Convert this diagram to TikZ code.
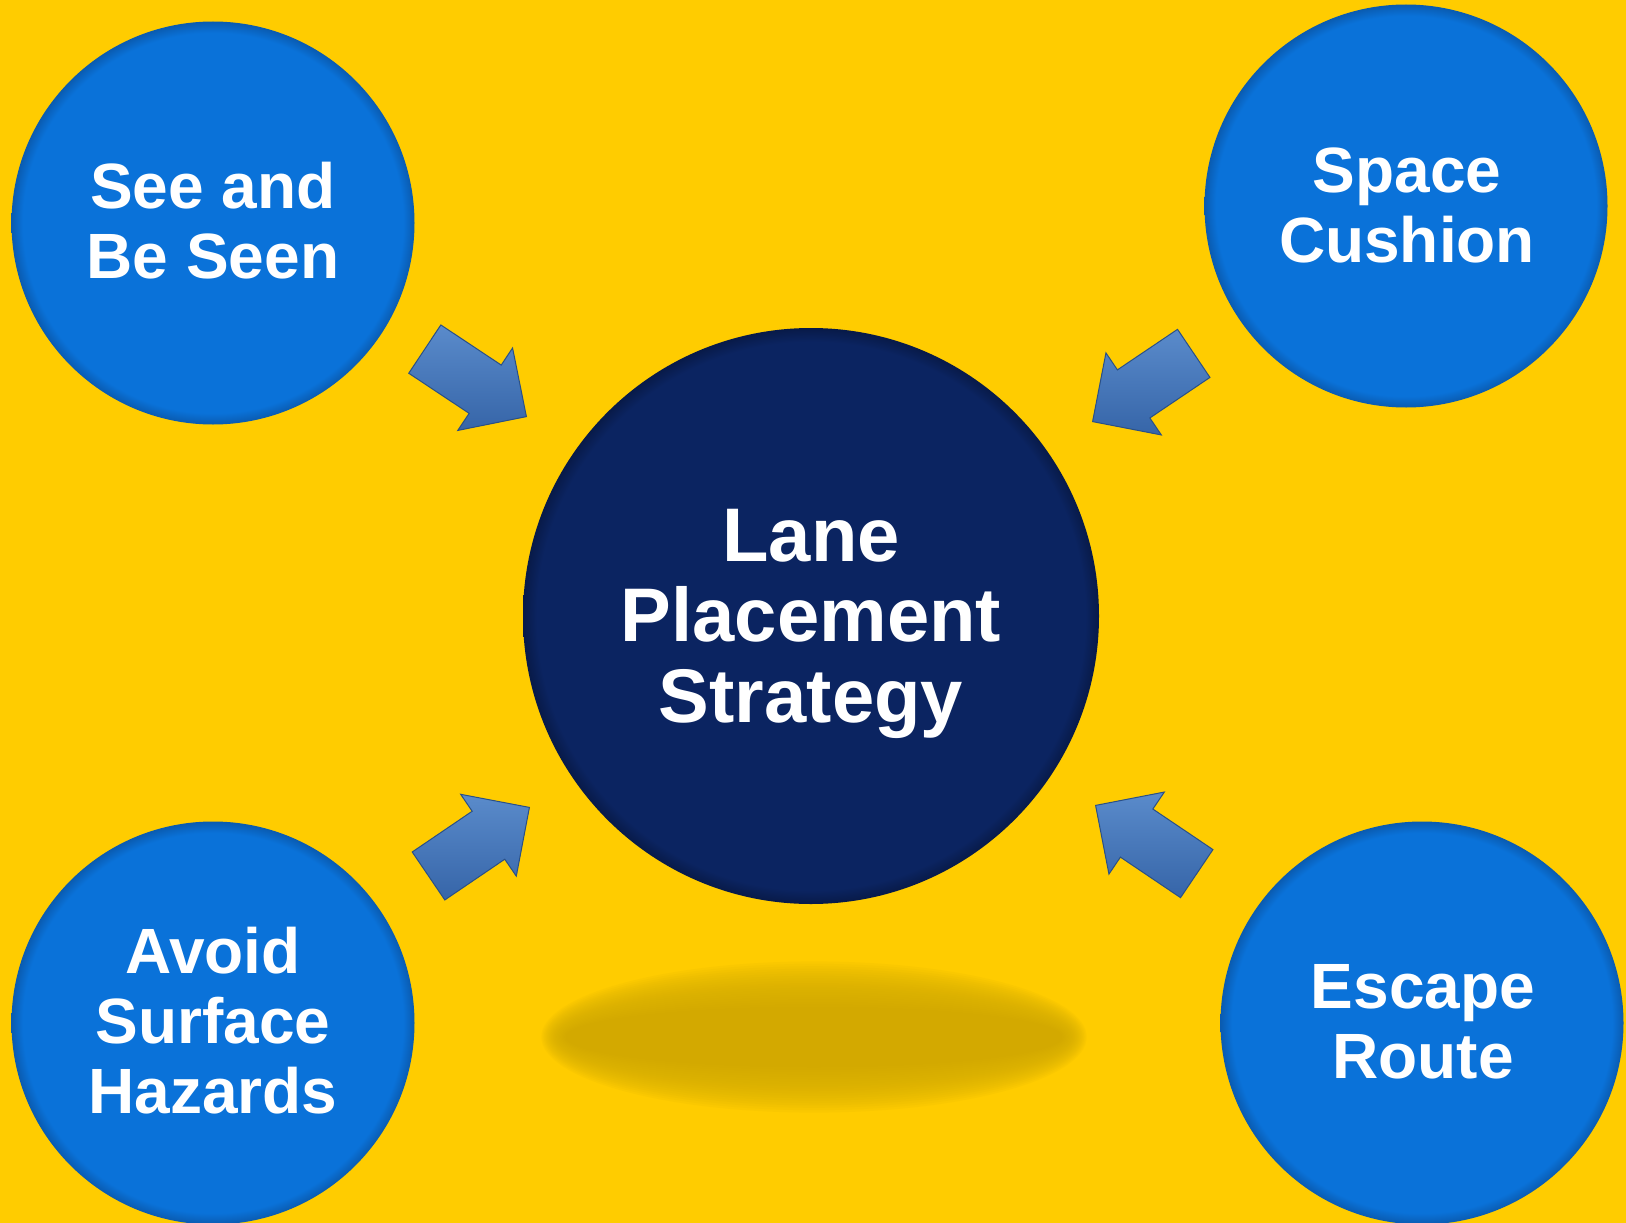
\documentclass[tikz,border=0pt]{standalone}
\usepackage{fontspec}
\setmainfont{Liberation Sans}
\usetikzlibrary{shapes.arrows}
\definecolor{bgc}{HTML}{FFCC00}
\definecolor{sblue}{HTML}{0A72D9}
\definecolor{sblueE}{HTML}{0A5BB0}
\definecolor{navy}{HTML}{0B2461}
\definecolor{navyE}{HTML}{081A48}
\definecolor{shadowc}{HTML}{D0A900}
\definecolor{arrL}{HTML}{5A8BCB}
\definecolor{arrD}{HTML}{3665A8}
\definecolor{arrE}{HTML}{2A5087}
\pgfdeclareradialshading{bevelsmall}{\pgfpoint{0bp}{0bp}}{color(0bp)=(sblue); color(23.6bp)=(sblue); color(25bp)=(sblueE); color(50bp)=(sblueE)}
\pgfdeclareradialshading{bevelnavy}{\pgfpoint{0bp}{0bp}}{color(0bp)=(navy); color(23.8bp)=(navy); color(25bp)=(navyE); color(50bp)=(navyE)}
\tikzset{
  smallcirc/.style={circle, inner sep=0pt, minimum size=403pt, shade, shading=bevelsmall},
  bigcirc/.style={circle, inner sep=0pt, minimum size=576pt, shade, shading=bevelnavy},
  smalltxt/.style={text=white, align=center, inner sep=0pt, anchor=base,
     font=\bfseries\fontsize{64}{70}\selectfont},
  bigtxt/.style={text=white, align=center, inner sep=0pt, anchor=base,
     font=\bfseries\fontsize{76}{80.5}\selectfont},
  fatarrow/.style={single arrow, inner xsep=0pt, inner ysep=28.5pt, minimum height=122pt,
     single arrow head extend=20.5pt, single arrow head indent=0pt, anchor=tip,
     top color=arrL, bottom color=arrD, draw=arrE, line width=1pt},
}
\begin{document}
\begin{tikzpicture}[x=1pt, y=-1pt]
\useasboundingbox (0,0) rectangle (1626,1223);
\fill[bgc] (0,0) rectangle (1626,1223);
% soft shadow below centre circle
\foreach \i in {19,18,...,0}
  \fill[shadowc, opacity=0.09] (814,1037) ellipse [x radius={248+1.3*\i}, y radius={30+2.4*\i}];
% circles
\node[bigcirc] (c) at (811,616) {};
\node[smallcirc] (tl) at (213,223) {};
\node[smallcirc] (tr) at (1406,206) {};
\node[smallcirc] (bl) at (213,1023) {};
\node[smallcirc] (br) at (1422,1023) {};
% texts (anchor base = baseline of the last line)
\node[bigtxt] (ct) at (811,722) {Lane\\Placement\\Strategy};
\node[smalltxt] (tlt) at (213,278) {See and\\Be Seen};
\node[smalltxt] (trt) at (1407,262) {Space\\Cushion};
\node[smalltxt] (blt) at (213,1113) {Avoid\\Surface\\Hazards};
\node[smalltxt] (brt) at (1423,1078) {Escape\\Route};
% arrows (placed by their tips)
\node[fatarrow, rotate=-33.6] (a1) at (527,417) {};
\node[fatarrow, rotate=-146] (a2) at (1092,422) {};
\node[fatarrow, rotate=34.2] (a3) at (530,807) {};
\node[fatarrow, rotate=146] (a4) at (1095,805) {};
\end{tikzpicture}
\end{document}
